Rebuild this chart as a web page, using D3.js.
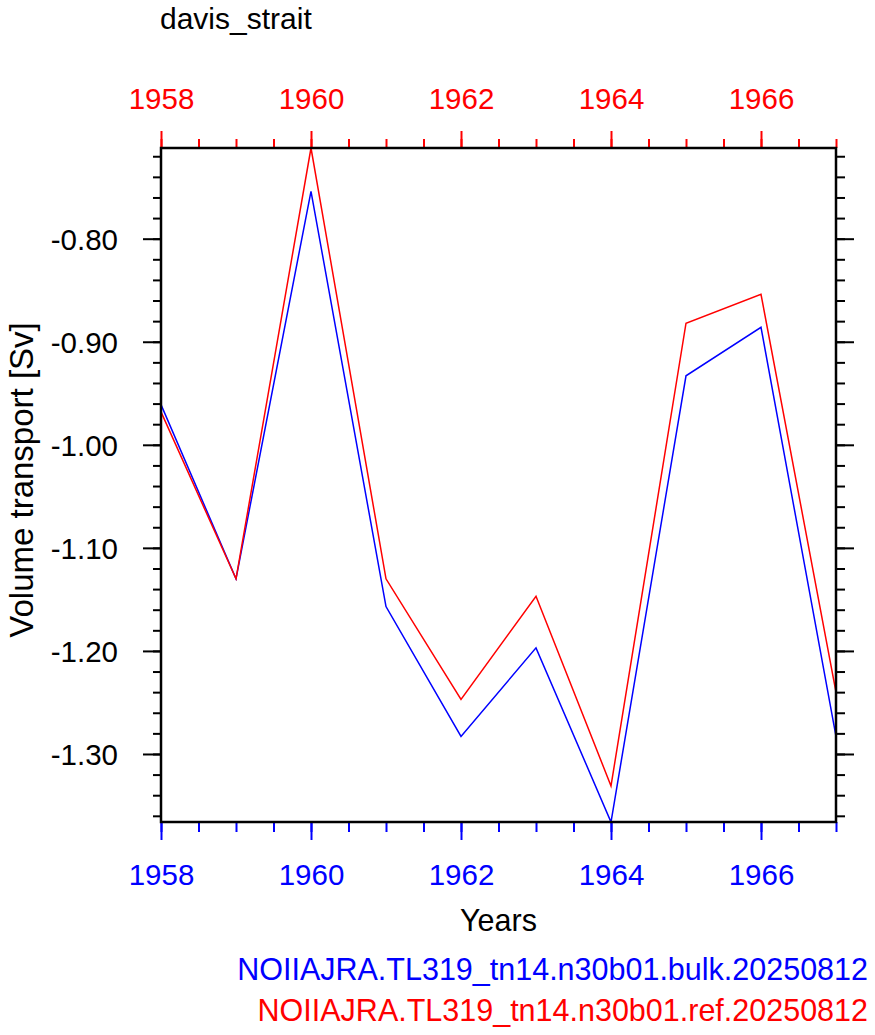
<!DOCTYPE html>
<html><head><meta charset="utf-8">
<script src="https://cdn.jsdelivr.net/npm/d3@7"></script>
<style>body{margin:0;background:#fff}text{font-family:"Liberation Sans",Arial,Helvetica,sans-serif}</style>
</head><body><svg id="c" width="875" height="1035"></svg>
<script>
const years = [1958,1959,1960,1961,1962,1963,1964,1965,1966,1967];
const bulk = [-0.961,-1.130,-0.754,-1.157,-1.283,-1.197,-1.366,-0.933,-0.886,-1.283];
const ref  = [-0.968,-1.130,-0.712,-1.130,-1.247,-1.147,-1.331,-0.882,-0.854,-1.240];
const yTicks = [-0.80,-0.90,-1.00,-1.10,-1.20,-1.30];
const xTicks = [1958,1960,1962,1964,1966];
const title = "davis_strait";
const yLabel = "Volume transport [Sv]";
const xLabel = "Years";
const names = ["NOIIAJRA.TL319_tn14.n30b01.bulk.20250812","NOIIAJRA.TL319_tn14.n30b01.ref.20250812"];
const colors = ["#0000ff","#ff0000"];

const L=161,R=836,T=148,B=822;
const svg=d3.select("#c");
const x=d3.scaleLinear().domain([1958,1967]).range([L,R]);
const yMin=d3.min(bulk.concat(ref)), yMax=d3.max(bulk.concat(ref));
const y=d3.scaleLinear().domain([yMin,yMax]).range([B,T]);

const minorX=d3.range(1958,1967.01,0.5);
const minorY=d3.range(-1.36,-0.70,0.02).filter(v=>v>=yMin-1e-9&&v<=yMax+1e-9);
const fmt=d=>d.toFixed(2);
const TF=29.5;

function styleAxis(g,col){
  g.select(".domain").remove();
  g.selectAll("line").attr("stroke",col).attr("stroke-width",2);
  g.selectAll("text").attr("font-size",TF).attr("fill",col);
}
// bottom
svg.append("g").attr("transform",`translate(0,${B})`).call(d3.axisBottom(x).tickValues(minorX).tickSize(10).tickFormat("")).call(g=>styleAxis(g,"#0000ff"));
const gb=svg.append("g").attr("transform",`translate(0,${B})`).call(d3.axisBottom(x).tickValues(xTicks).tickSize(18).tickFormat(d3.format("d"))).call(g=>styleAxis(g,"#0000ff"));
gb.selectAll("text").attr("y",63).attr("dy",null);
// top
svg.append("g").attr("transform",`translate(0,${T})`).call(d3.axisTop(x).tickValues(minorX).tickSize(9).tickFormat("")).call(g=>styleAxis(g,"#ff0000"));
const gt=svg.append("g").attr("transform",`translate(0,${T})`).call(d3.axisTop(x).tickValues(xTicks).tickSize(17).tickFormat(d3.format("d"))).call(g=>styleAxis(g,"#ff0000"));
gt.selectAll("text").attr("y",-39).attr("dy",null);
// left
svg.append("g").attr("transform",`translate(${L},0)`).call(d3.axisLeft(y).tickValues(minorY).tickSize(8).tickFormat("")).call(g=>styleAxis(g,"#000"));
const gl=svg.append("g").attr("transform",`translate(${L},0)`).call(d3.axisLeft(y).tickValues(yTicks).tickSize(18).tickFormat(fmt)).call(g=>styleAxis(g,"#000"));
gl.selectAll("text").attr("x",-43).attr("dy","0.36em");
// right
svg.append("g").attr("transform",`translate(${R},0)`).call(d3.axisRight(y).tickValues(minorY).tickSize(9).tickFormat("")).call(g=>styleAxis(g,"#000"));
svg.append("g").attr("transform",`translate(${R},0)`).call(d3.axisRight(y).tickValues(yTicks).tickSize(18).tickFormat("")).call(g=>styleAxis(g,"#000"));

const line=d3.line().x((d,i)=>x(years[i])).y(d=>y(d));
[bulk,ref].forEach((s,k)=>{
  svg.append("path").datum(s).attr("d",line).attr("fill","none").attr("stroke",colors[k]).attr("stroke-width",1.5);
});
svg.append("rect").attr("x",L).attr("y",T).attr("width",R-L).attr("height",B-T).attr("fill","none").attr("stroke","#000").attr("stroke-width",2.5);

svg.append("text").attr("x",160).attr("y",29).attr("font-size",30).text(title);
svg.append("text").attr("transform",`translate(33,480) rotate(-90)`).attr("text-anchor","middle").attr("font-size",33).text(yLabel);
svg.append("text").attr("x",(L+R)/2).attr("y",931).attr("text-anchor","middle").attr("font-size",30.5).text(xLabel);
names.forEach((n,k)=>{
  svg.append("text").attr("x",868).attr("y",980+k*41).attr("text-anchor","end").attr("font-size",30.5).attr("fill",colors[k]).text(n);
});
</script></body></html>
